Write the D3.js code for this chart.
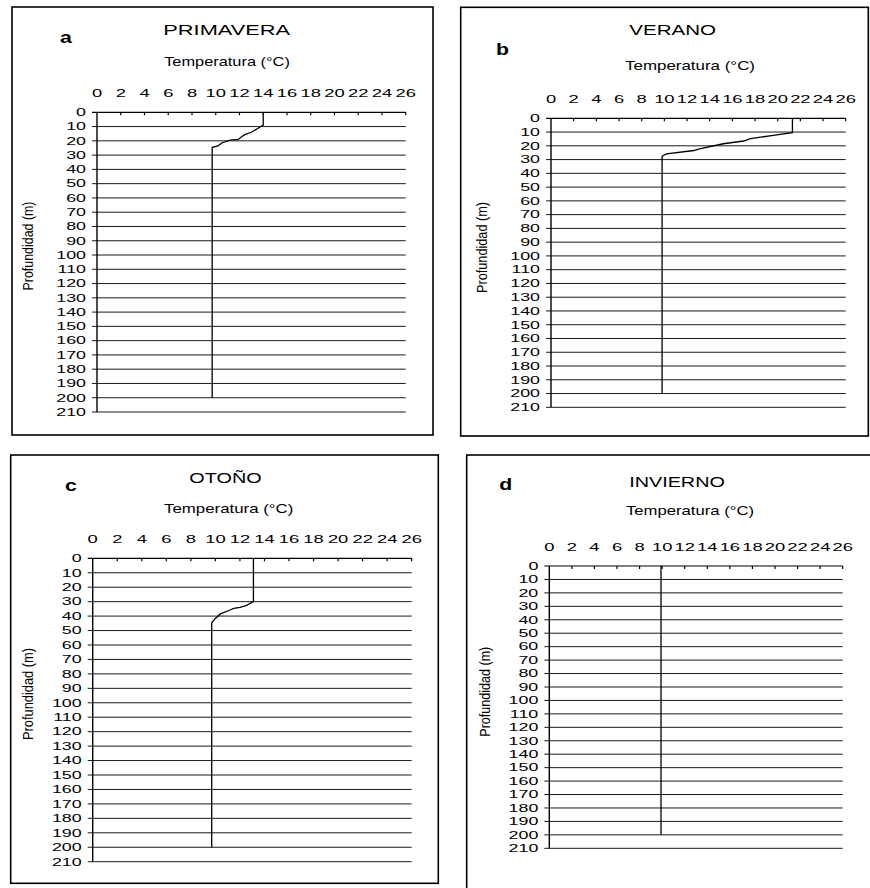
<!DOCTYPE html>
<html>
<head>
<meta charset="utf-8">
<script src="https://cdn.jsdelivr.net/npm/d3@7"></script>
<style>
  html, body { margin: 0; padding: 0; background: #fff; }
  svg { display: block; }
  text { font-family: "Liberation Sans", Arial, sans-serif; fill: #000; }
</style>
</head>
<body>
<svg id="chart" width="870" height="888"></svg>
<script>
// Temperature (°C) vs depth (m) profiles, one panel per season
const tempTicks = [0, 2, 4, 6, 8, 10, 12, 14, 16, 18, 20, 22, 24, 26];
const depthTicks = [0, 10, 20, 30, 40, 50, 60, 70, 80, 90, 100, 110, 120, 130, 140, 150, 160, 170, 180, 190, 200, 210];
const panelLetters = ["a", "b", "c", "d"];
const seasonNames = ["PRIMAVERA", "VERANO", "OTOÑO", "INVIERNO"];
const xAxisTitle = "Temperatura (°C)";
const yAxisTitle = "Profundidad (m)";

const primaveraDepth = [0, 9, 10.5, 14, 15.5, 17, 19, 19.5, 21.5, 23.5, 24.5, 200];
const primaveraTemp  = [14.0, 14.0, 13.7, 13.0, 12.5, 12.2, 11.9, 11.2, 10.5, 10.2, 9.7, 9.7];

const veranoDepth = [0, 10.5, 12.4, 14.8, 16.5, 18.5, 22.2, 23.4, 25.8, 27, 28, 200];
const veranoTemp  = [21.3, 21.3, 19.6, 17.6, 17.0, 15.2, 13.1, 12.6, 10.2, 9.9, 9.8, 9.8];

const otonoDepth = [0, 30, 32.8, 33.9, 34.6, 35.8, 38.5, 41.6, 44.6, 200];
const otonoTemp  = [13.1, 13.1, 12.5, 12.0, 11.5, 11.2, 10.4, 10.0, 9.7, 9.7];

const inviernoDepth = [0, 200];
const inviernoTemp  = [9.9, 9.9];

const seasonDepths = [primaveraDepth, veranoDepth, otonoDepth, inviernoDepth];
const seasonTemps  = [primaveraTemp, veranoTemp, otonoTemp, inviernoTemp];

// Panel geometry
const layout = [
  { box: [12, 7, 421, 428],       plot: [97, 405.7, 112.3, 412],   title: [226.7, 35, 126.7], letter: [60, 43.3],  xt: [227, 66, 125.7], yt: [33, 246, 89] },
  { box: [460.7, 7.3, 407.6, 428.7], plot: [551, 845.7, 118.3, 407.3], title: [672.7, 35, 86.7], letter: [496, 55],   xt: [690, 70, 130],   yt: [486.8, 247.5, 91] },
  { box: [10.7, 455, 427.6, 428.3], plot: [92.7, 411.7, 558.3, 861.7], title: [225.5, 483.3, 72.3], letter: [65, 490.7], xt: [228.7, 513, 129.3], yt: [32.6, 694, 92] },
  { box: [466.7, 455, 440, 460],   plot: [549.3, 842.7, 566, 848.3], title: [677, 486.7, 95.7], letter: [499.3, 490], xt: [690, 515, 128],  yt: [490.3, 691.7, 90] }
];

const svg = d3.select("#chart");
svg.append("rect").attr("width", 870).attr("height", 888).attr("fill", "#fff");

layout.forEach((L, i) => {
  const g = svg.append("g");
  const [px0, px1, py0, py1] = L.plot;
  const x = d3.scaleLinear().domain([0, 26]).range([px0, px1]);
  const y = d3.scaleLinear().domain([0, 210]).range([py0, py1]);

  // frame
  g.append("rect")
    .attr("x", L.box[0]).attr("y", L.box[1])
    .attr("width", L.box[2]).attr("height", L.box[3])
    .attr("fill", "none").attr("stroke", "#000").attr("stroke-width", 1.6);

  // horizontal gridlines with small outward ticks
  g.selectAll(".grid").data(depthTicks.slice(1)).enter().append("line")
    .attr("x1", x(0) - 5).attr("x2", x(26))
    .attr("y1", d => y(d)).attr("y2", d => y(d))
    .attr("stroke", "#1a1a1a").attr("stroke-width", 1);

  // top axis line and inward ticks
  g.append("line").attr("x1", x(0) - 5).attr("x2", x(26))
    .attr("y1", y(0)).attr("y2", y(0)).attr("stroke", "#000").attr("stroke-width", 1.2);
  g.selectAll(".xtick").data(tempTicks.slice(1)).enter().append("line")
    .attr("x1", d => x(d)).attr("x2", d => x(d))
    .attr("y1", y(0)).attr("y2", y(0) + 3)
    .attr("stroke", "#000").attr("stroke-width", 1.2);

  // left axis line
  g.append("line").attr("x1", x(0)).attr("x2", x(0))
    .attr("y1", y(0)).attr("y2", y(210)).attr("stroke", "#000").attr("stroke-width", 1.4);

  // tick labels (temperature, on top)
  g.selectAll(".xlab").data(tempTicks).enter().append("text")
    .attr("transform", d => `translate(${x(d)},${y(0) - 15}) scale(1.75,1)`)
    .attr("text-anchor", "middle").attr("font-size", 10.5)
    .text(d => d);

  // tick labels (depth, on the left)
  g.selectAll(".ylab").data(depthTicks).enter().append("text")
    .attr("transform", d => `translate(${x(0) - 11},${y(d) + 3.8}) scale(1.7,1)`)
    .attr("text-anchor", "end").attr("font-size", 10.5)
    .text(d => d);

  // season title
  g.append("text")
    .attr("x", L.title[0]).attr("y", L.title[1])
    .attr("text-anchor", "middle").attr("font-size", 14)
    .attr("textLength", L.title[2]).attr("lengthAdjust", "spacingAndGlyphs")
    .text(seasonNames[i]);

  // panel letter
  g.append("text")
    .attr("transform", `translate(${L.letter[0]},${L.letter[1]}) scale(1.25,1)`)
    .attr("font-size", 17).attr("font-weight", "bold")
    .text(panelLetters[i]);

  // x axis title
  g.append("text")
    .attr("x", L.xt[0]).attr("y", L.xt[1])
    .attr("text-anchor", "middle").attr("font-size", 13)
    .attr("textLength", L.xt[2]).attr("lengthAdjust", "spacingAndGlyphs")
    .text(xAxisTitle);

  // y axis title (rotated)
  g.append("text")
    .attr("transform", `translate(${L.yt[0]},${L.yt[1]}) rotate(-90)`)
    .attr("text-anchor", "middle").attr("font-size", 15.5)
    .attr("textLength", L.yt[2]).attr("lengthAdjust", "spacingAndGlyphs")
    .text(yAxisTitle);

  // temperature profile
  const pts = seasonDepths[i].map((dep, k) => [seasonTemps[i][k], dep]);
  g.append("path")
    .datum(pts)
    .attr("d", d3.line().x(p => x(p[0])).y(p => y(p[1])))
    .attr("fill", "none").attr("stroke", "#000").attr("stroke-width", 1.3);
});
</script>
</body>
</html>
